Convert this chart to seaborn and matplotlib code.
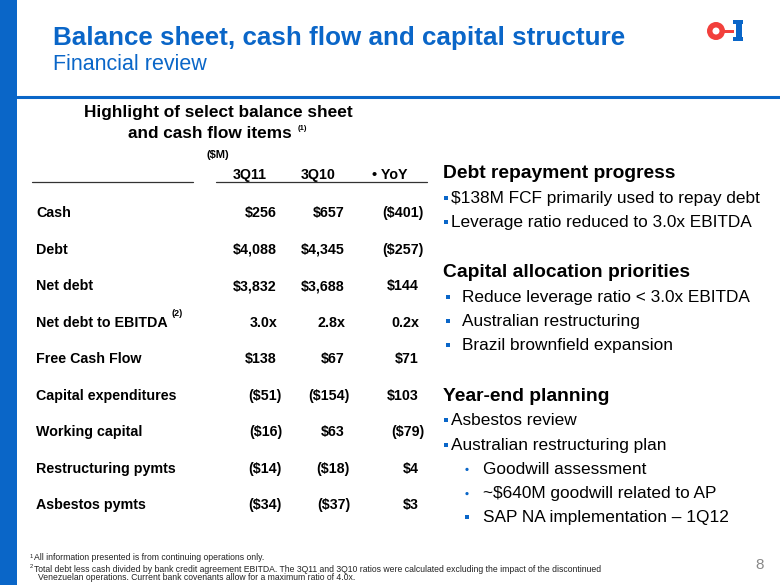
import matplotlib
matplotlib.use("Agg")
import matplotlib.pyplot as plt
from matplotlib.patches import Rectangle, Circle
import seaborn as sns

# table data
row_labels = ["Cash", "Debt", "Net debt", "Net debt to EBITDA", "Free Cash Flow",
              "Capital expenditures", "Working capital", "Restructuring pymts", "Asbestos pymts"]
col_labels = ["3Q11", "3Q10", "\u2022 YoY"]
q3_11 = ["$256", "$4,088", "$3,832", "3.0x", "$138", "($51)", "($16)", "($14)", "($34)"]
q3_10 = ["$657", "$4,345", "$3,688", "2.8x", "$67", "($154)", "$63", "($18)", "($37)"]
yoy = ["($401)", "($257)", "$144", "0.2x", "$71", "$103", "($79)", "$4", "$3"]

# right-hand commentary
sections = [
    ("Debt repayment progress", [("sq0", "$138M FCF primarily used to repay debt"),
                                 ("sq0", "Leverage ratio reduced to 3.0x EBITDA")]),
    ("Capital allocation priorities", [("sq1", "Reduce leverage ratio < 3.0x EBITDA"),
                                       ("sq1", "Australian restructuring"),
                                       ("sq1", "Brazil brownfield expansion")]),
    ("Year-end planning", [("sq0", "Asbestos review"),
                           ("sq0", "Australian restructuring plan"),
                           ("dot2", "Goodwill assessment"),
                           ("dot2", "~$640M goodwill related to AP"),
                           ("sq2", "SAP NA implementation \u2013 1Q12")]),
]
footnotes = ["All information presented is from continuing operations only.",
             "Total debt less cash divided by bank credit agreement EBITDA. The 3Q11 and 3Q10 ratios were calculated excluding the impact of the discontinued",
             "Venezuelan operations. Current bank covenants allow for a maximum ratio of 4.0x."]

sns.set_theme(style="white")
plt.rcParams['font.family'] = ['Liberation Sans', 'DejaVu Sans']

BLUE = "#0a66c8"
RED = "#f2403c"
TXT = "#000000"
FN = "#222222"

fig = plt.figure(figsize=(7.8, 5.85), dpi=100)
bg = fig.add_axes([0, 0, 1, 1])
bg.set_xlim(0, 780)
bg.set_ylim(585, 0)
bg.axis("off")

# slide frame
bg.add_patch(Rectangle((0, 0), 17, 585, color=BLUE, lw=0))
bg.plot([17, 780], [97, 97], color=BLUE, lw=2.2)
bg.text(53, 38, "Balance sheet, cash flow and capital structure", color=BLUE,
        fontsize=18.7, fontweight="bold", va="center")
bg.text(53, 64, "Financial review", color=BLUE, fontsize=15.5, va="center")

# logo
bg.add_patch(Circle((716, 31), 9, color=RED, lw=0))
bg.add_patch(Circle((716, 31), 3.5, color="white", lw=0))
bg.add_patch(Rectangle((724, 29.5), 10, 3.5, color=RED, lw=0))
bg.add_patch(Rectangle((736, 20), 6, 21, color=BLUE, lw=0))
bg.add_patch(Rectangle((733, 20), 10, 4, color=BLUE, lw=0))
bg.add_patch(Rectangle((733, 37), 10, 4, color=BLUE, lw=0))

# table heading
bg.text(218, 112, "Highlight of select balance sheet", fontsize=12.4, fontweight="bold",
        ha="center", va="center", color=TXT)
bg.text(210, 133, "and cash flow items", fontsize=12.4, fontweight="bold",
        ha="center", va="center", color=TXT)
bg.text(298, 129, "(1)", fontsize=5.5, fontweight="bold", va="center", color=TXT)
bg.text(218, 155, "($M)", fontsize=8, fontweight="bold", ha="center", va="center", color=TXT)
head_right = [267, 336, 408]
for x, lab in zip(head_right, col_labels):
    bg.text(x, 179, lab, fontsize=10.3, fontweight="bold", ha="right", va="baseline", color=TXT)
bg.plot([32, 193], [182, 182], color="#333333", lw=0.9)
bg.plot([216, 427], [182, 182], color="#333333", lw=0.9)

# table body on its own row axis
top, bottom = 193.75, 522.25
tab = fig.add_axes([0, (585 - bottom) / 585, 1, (bottom - top) / 585])
tab.set_xlim(0, 780)
tab.set_ylim(len(row_labels) - 0.5, -0.5)
tab.axis("off")
tab.patch.set_alpha(0)
col_right = [277, 345, 419]
base = 0.14  # baseline sits a little below the row centre
for i, lab in enumerate(row_labels):
    tab.text(36, i + base, lab, fontsize=10.3, fontweight="bold", va="baseline", color=TXT)
    for x, col in zip(col_right, [q3_11, q3_10, yoy]):
        v = col[i]
        off = 5 if v.endswith(")") else 0
        tab.text(x + off, i + base, v, fontsize=10.3, fontweight="bold", ha="right",
                 va="baseline", color=TXT)
tab.text(171, row_labels.index("Net debt to EBITDA") - 0.22, "(2)", fontsize=6.5,
         fontweight="bold", va="center", color=TXT)

# commentary
y = 173
for head, items in sections:
    bg.text(443, y + 5, head, fontsize=13.9, fontweight="bold", va="baseline", color=TXT)
    y += 25
    for kind, txt in items:
        if kind == "sq0":
            bg.add_patch(Rectangle((444, y - 2.5), 4, 4, color=BLUE, lw=0))
            tx = 451
        elif kind == "sq1":
            bg.add_patch(Rectangle((446, y - 2.5), 4, 4, color=BLUE, lw=0))
            tx = 462
        elif kind == "sq2":
            bg.add_patch(Rectangle((465, y - 2.5), 4, 4, color=BLUE, lw=0))
            tx = 483
        else:
            bg.add_patch(Circle((467, y), 1.6, color=BLUE, lw=0))
            tx = 483
        bg.text(tx, y + 4.5, txt, fontsize=12.4, va="baseline", color=TXT)
        y += 24.2
    y += 26

# footnotes
bg.text(30, 556, "1", fontsize=4.2, va="center", color=FN)
bg.text(34, 558, footnotes[0], fontsize=6.2, va="center", color=FN)
bg.text(30, 567, "2", fontsize=4.2, va="center", color=FN)
bg.text(34, 569, footnotes[1], fontsize=6.2, va="center", color=FN)
bg.text(38, 578, footnotes[2], fontsize=6.2, va="center", color=FN)
bg.text(760, 565, "8", fontsize=11, ha="center", va="center", color="#888888")

fig.savefig("out.png", dpi=100)
